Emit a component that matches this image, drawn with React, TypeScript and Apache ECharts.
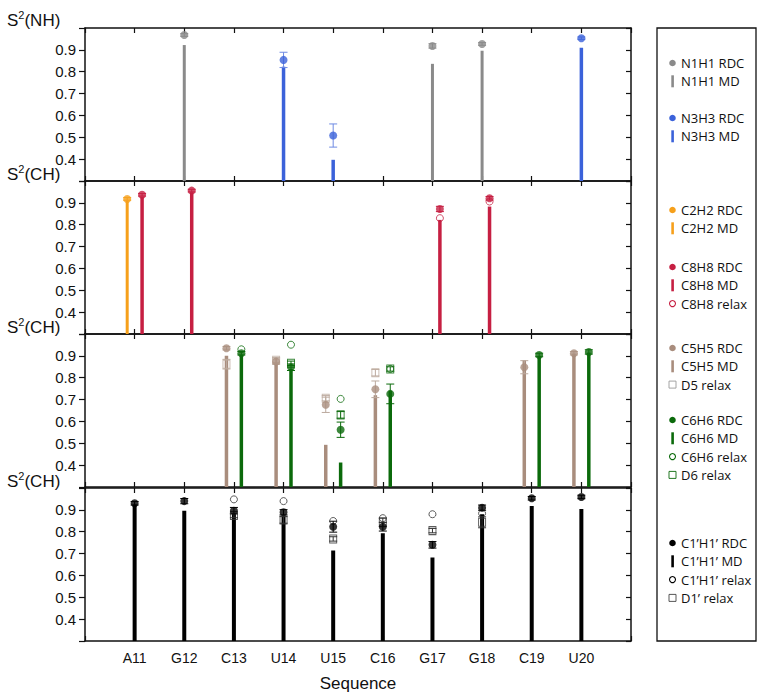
import React, { useEffect, useRef } from "react";
import * as echarts from "echarts";

// ---------- data ----------
const residueNumbers = [11, 12, 13, 14, 15, 16, 17, 18, 19, 20];
const residueNames = ["A11", "G12", "C13", "U14", "U15", "C16", "G17", "G18", "C19", "U20"];
const yTickLabels = ["0.4", "0.5", "0.6", "0.7", "0.8", "0.9"];

// panel 1 : S2(NH)
const n1h1Pos = [12, 17, 18];
const n1h1Rdc = [0.968, 0.918, 0.927];
const n1h1RdcErr = [0.006, 0.01, 0.006];
const n1h1Md = [0.922, 0.836, 0.896];

const n3h3Pos = [14, 15, 20];
const n3h3Rdc = [0.854, 0.508, 0.953];
const n3h3RdcErr = [0.035, 0.053, 0.006];
const n3h3Md = [0.823, 0.397, 0.91];

// panel 2 : S2(CH) purine C2/C8
const c2h2Pos = [11];
const c2h2Rdc = [0.918];
const c2h2RdcErr = [0.006];
const c2h2Md = [0.91];

const c8h8Pos = [11, 12, 17, 18];
const c8h8Rdc = [0.937, 0.956, 0.872, 0.921];
const c8h8RdcErr = [0.006, 0.006, 0.012, 0.008];
const c8h8Md = [0.928, 0.948, 0.822, 0.883];
const c8h8Relax = [null, null, 0.83, 0.906];

// panel 3 : S2(CH) pyrimidine C5/C6
const c5h5Pos = [13, 14, 15, 16, 19, 20];
const c5h5Rdc = [0.935, 0.874, 0.676, 0.747, 0.848, 0.912];
const c5h5RdcErr = [0.008, 0.012, 0.035, 0.038, 0.03, 0.008];
const c5h5Md = [0.9, 0.865, 0.493, 0.72, 0.88, 0.91];
const d5Relax = [0.862, 0.88, 0.706, 0.823, null, null];
const d5RelaxErr = [0.022, 0.012, 0.012, 0.015, null, null];

const c6h6Pos = [13, 14, 15, 16, 19, 20];
const c6h6Rdc = [0.912, 0.848, 0.562, 0.726, 0.904, 0.918];
const c6h6RdcErr = [0.008, 0.015, 0.035, 0.045, 0.008, 0.01];
const c6h6Md = [0.905, 0.84, 0.412, 0.74, 0.9, 0.915];
const c6h6Relax = [0.93, 0.951, 0.703, 0.84, null, null];
const d6Relax = [null, 0.866, 0.63, 0.84, null, null];
const d6RelaxErr = [null, 0.01, 0.015, 0.01, null, null];

// panel 4 : S2(CH) C1'
const c1Pos = [11, 12, 13, 14, 15, 16, 17, 18, 19, 20];
const c1Rdc = [0.93, 0.94, 0.896, 0.889, 0.823, 0.823, 0.74, 0.91, 0.953, 0.959];
const c1RdcErr = [0.008, 0.012, 0.015, 0.012, 0.025, 0.02, 0.015, 0.012, 0.008, 0.008];
const c1Md = [0.925, 0.896, 0.88, 0.87, 0.714, 0.793, 0.682, 0.88, 0.918, 0.904];
const c1Relax = [null, null, 0.948, 0.94, 0.849, 0.862, 0.88, 0.884, null, null];
const d1Relax = [null, null, 0.874, 0.854, 0.767, 0.843, 0.805, 0.843, null, null];
const d1RelaxErr = [null, null, 0.01, 0.015, 0.01, 0.02, 0.01, 0.025, null, null];

// ---------- styles ----------
const GRAY = "#8a8a8a";
const BLUE = "#3b62da";
const ORANGE = "#f6a01b";
const CRIMSON = "#c61f42";
const TAN = "#a98d7d";
const TAN_LIGHT = "#bcaa9e";
const GREEN = "#0b6a0b";
const BLACK = "#000000";

const AXIS_FONT = "'Liberation Sans', Arial, Helvetica, sans-serif";
const LEGEND_FONT = "'Open Sans', 'Noto Sans', sans-serif";

const GRID_TOPS = [28, 181, 334, 488];
const GRID_H = 153;
const GRID_LEFT = 85;
const GRID_RIGHT = 133;
const Y_MIN = 0.3;
const LEFT_OFF = -0.15;
const RIGHT_OFF = 0.15;

type Num = number | null;

function mdBars(g: number, color: string, pos: number[], md: number[], off: number, w: number) {
  return {
    type: "custom",
    xAxisIndex: 2 * g,
    yAxisIndex: 2 * g,
    z: 2,
    silent: true,
    data: pos.map((p, i) => [p + off, md[i]]),
    renderItem: (_params: any, api: any) => {
      const top = api.coord([api.value(0), api.value(1)]);
      const bot = api.coord([api.value(0), Y_MIN]);
      return {
        type: "rect",
        shape: { x: top[0] - w / 2, y: top[1], width: w, height: bot[1] - top[1] },
        style: { fill: color },
      };
    },
  };
}

function errBars(g: number, color: string, pos: number[], vals: Num[], errs: Num[], off: number) {
  const data: number[][] = [];
  pos.forEach((p, i) => {
    const v = vals[i];
    const e = errs[i];
    if (v != null && e != null) data.push([p + off, v, e]);
  });
  return {
    type: "custom",
    xAxisIndex: 2 * g,
    yAxisIndex: 2 * g,
    z: 3,
    silent: true,
    data,
    renderItem: (_params: any, api: any) => {
      const x = api.value(0);
      const v = api.value(1);
      const e = api.value(2);
      const hi = api.coord([x, v + e]);
      const lo = api.coord([x, v - e]);
      const st = { stroke: color, lineWidth: 1 };
      return {
        type: "group",
        children: [
          { type: "line", shape: { x1: hi[0], y1: hi[1], x2: lo[0], y2: lo[1] }, style: st },
          { type: "line", shape: { x1: hi[0] - 4, y1: hi[1], x2: hi[0] + 4, y2: hi[1] }, style: st },
          { type: "line", shape: { x1: lo[0] - 4, y1: lo[1], x2: lo[0] + 4, y2: lo[1] }, style: st },
        ],
      };
    },
  };
}

function marks(
  g: number,
  color: string,
  pos: number[],
  vals: Num[],
  off: number,
  kind: "dot" | "ring" | "square"
) {
  const data: number[][] = [];
  pos.forEach((p, i) => {
    const v = vals[i];
    if (v != null) data.push([p + off, v]);
  });
  const base: any = {
    type: "scatter",
    xAxisIndex: 2 * g,
    yAxisIndex: 2 * g,
    silent: true,
    data,
  };
  if (kind === "dot") {
    return { ...base, z: 5, symbol: "circle", symbolSize: 8, itemStyle: { color } };
  }
  if (kind === "ring") {
    return {
      ...base,
      z: 4,
      symbol: "circle",
      symbolSize: 7,
      itemStyle: { color: "rgba(255,255,255,0)", borderColor: color, borderWidth: 1 },
    };
  }
  return {
    ...base,
    z: 4,
    symbol: "rect",
    symbolSize: [7, 8],
    itemStyle: { color: "rgba(255,255,255,0)", borderColor: color, borderWidth: 1 },
  };
}

function buildAxes() {
  const xAxis: any[] = [];
  const yAxis: any[] = [];
  GRID_TOPS.forEach((_t, g) => {
    const isLast = g === GRID_TOPS.length - 1;
    const common = {
      type: "value",
      gridIndex: g,
      min: 10,
      max: 21,
      interval: 1,
      splitLine: { show: false },
      axisLine: { show: true, onZero: false, lineStyle: { color: "#111", width: 1.5 } },
      axisTick: { show: true, inside: true, length: 5, lineStyle: { color: "#111", width: 1.2 } },
    };
    xAxis.push({
      ...common,
      position: "bottom",
      axisLabel: {
        show: isLast,
        fontFamily: AXIS_FONT,
        fontSize: 14,
        color: "#111",
        margin: 10,
        formatter: (v: number) => {
          const idx = residueNumbers.indexOf(Math.round(v));
          return idx >= 0 ? residueNames[idx] : "";
        },
      },
      name: isLast ? "Sequence" : "",
      nameLocation: "middle",
      nameGap: 34,
      nameTextStyle: { fontFamily: AXIS_FONT, fontSize: 17, color: "#111" },
    });
    xAxis.push({ ...common, position: "top", axisLabel: { show: false } });
    const ycommon = {
      type: "value",
      gridIndex: g,
      min: Y_MIN,
      max: 1.0,
      interval: 0.1,
      splitLine: { show: false },
      axisLine: { show: true, onZero: false, lineStyle: { color: "#111", width: 1.5 } },
    };
    yAxis.push({
      ...ycommon,
      position: "left",
      axisTick: { show: true, inside: false, length: 6, lineStyle: { color: "#111", width: 1.2 } },
      axisLabel: {
        fontFamily: AXIS_FONT,
        fontSize: 15,
        color: "#111",
        margin: 9,
        formatter: (v: number) => {
          const s = v.toFixed(1);
          return yTickLabels.indexOf(s) >= 0 ? s : "";
        },
      },
    });
    yAxis.push({
      ...ycommon,
      position: "right",
      axisTick: { show: true, inside: true, length: 5, lineStyle: { color: "#111", width: 1.2 } },
      axisLabel: { show: false },
    });
  });
  return { xAxis, yAxis };
}

// legend layout
type LegendKind = "dot" | "bar" | "ring" | "square";
const legendGroups: { items: [string, string, LegendKind][] }[] = [
  { items: [["N1H1 RDC", GRAY, "dot"], ["N1H1 MD", GRAY, "bar"]] },
  { items: [["N3H3 RDC", BLUE, "dot"], ["N3H3 MD", BLUE, "bar"]] },
  { items: [["C2H2 RDC", ORANGE, "dot"], ["C2H2 MD", ORANGE, "bar"]] },
  { items: [["C8H8 RDC", CRIMSON, "dot"], ["C8H8 MD", CRIMSON, "bar"], ["C8H8 relax", CRIMSON, "ring"]] },
  { items: [["C5H5 RDC", TAN, "dot"], ["C5H5 MD", TAN, "bar"], ["D5 relax", "#9a9a9a", "square"]] },
  {
    items: [
      ["C6H6 RDC", GREEN, "dot"],
      ["C6H6 MD", GREEN, "bar"],
      ["C6H6 relax", GREEN, "ring"],
      ["D6 relax", GREEN, "square"],
    ],
  },
  {
    items: [
      ["C1’H1’ RDC", BLACK, "dot"],
      ["C1’H1’ MD", BLACK, "bar"],
      ["C1’H1’ relax", BLACK, "ring"],
      ["D1’ relax", "#444", "square"],
    ],
  },
];
const LEGEND_GROUP_Y = [63, 118, 210, 267, 348, 420, 543];
const LEGEND_STEP = 18.3;

function legendGraphics() {
  const els: any[] = [
    {
      type: "rect",
      shape: { x: 657, y: 28, width: 99, height: 613 },
      style: { fill: "none", stroke: "#111", lineWidth: 1.3 },
    },
  ];
  const mx = 672.5;
  legendGroups.forEach((grp, gi) => {
    grp.items.forEach(([label, color, kind], ii) => {
      const cy = LEGEND_GROUP_Y[gi] + ii * LEGEND_STEP;
      if (kind === "dot") {
        els.push({ type: "circle", shape: { cx: mx, cy, r: 3.3 }, style: { fill: color } });
      } else if (kind === "bar") {
        els.push({ type: "rect", shape: { x: mx - 1.2, y: cy - 6, width: 2.6, height: 12 }, style: { fill: color } });
      } else if (kind === "ring") {
        els.push({ type: "circle", shape: { cx: mx, cy, r: 3 }, style: { fill: "#fff", stroke: color, lineWidth: 1.1 } });
      } else {
        els.push({
          type: "rect",
          shape: { x: mx - 3.5, y: cy - 3.5, width: 7, height: 7 },
          style: { fill: "none", stroke: color, lineWidth: 0.9 },
        });
      }
      els.push({
        type: "text",
        x: 681,
        y: cy,
        style: {
          text: label,
          fontFamily: LEGEND_FONT,
          fontSize: 13,
          fill: "#111",
          textVerticalAlign: "middle",
          verticalAlign: "middle",
        },
      });
    });
  });
  return els;
}

function s2Label(suffix: string, yBottom: number) {
  return {
    type: "text",
    x: 7,
    y: yBottom,
    style: {
      text: `{a|S}{b|2}{a|(${suffix})}`,
      verticalAlign: "bottom",
      textVerticalAlign: "bottom",
      rich: {
        a: { fontFamily: AXIS_FONT, fontSize: 17, fill: "#111", lineHeight: 20, verticalAlign: "bottom" },
        b: { fontFamily: AXIS_FONT, fontSize: 11, fill: "#111", lineHeight: 20, verticalAlign: "top", padding: [0, 0, 8, 0] },
      },
    },
  };
}

export default function App() {
  const ref = useRef<HTMLDivElement>(null);
  useEffect(() => {
    if (!ref.current) return;
    const chart = echarts.init(ref.current, undefined, { renderer: "svg" });
    const { xAxis, yAxis } = buildAxes();
    const series: any[] = [
      // panel 1
      mdBars(0, GRAY, n1h1Pos, n1h1Md, 0, 3),
      mdBars(0, BLUE, n3h3Pos, n3h3Md, 0, 3.5),
      errBars(0, GRAY, n1h1Pos, n1h1Rdc, n1h1RdcErr, 0),
      errBars(0, "#6f8be3", n3h3Pos, n3h3Rdc, n3h3RdcErr, 0),
      marks(0, GRAY, n1h1Pos, n1h1Rdc, 0, "dot"),
      marks(0, BLUE, n3h3Pos, n3h3Rdc, 0, "dot"),
      // panel 2
      mdBars(1, ORANGE, c2h2Pos, c2h2Md, LEFT_OFF, 3),
      mdBars(1, CRIMSON, c8h8Pos, c8h8Md, RIGHT_OFF, 3.5),
      errBars(1, ORANGE, c2h2Pos, c2h2Rdc, c2h2RdcErr, LEFT_OFF),
      errBars(1, CRIMSON, c8h8Pos, c8h8Rdc, c8h8RdcErr, RIGHT_OFF),
      marks(1, CRIMSON, c8h8Pos, c8h8Relax, RIGHT_OFF, "ring"),
      marks(1, ORANGE, c2h2Pos, c2h2Rdc, LEFT_OFF, "dot"),
      marks(1, CRIMSON, c8h8Pos, c8h8Rdc, RIGHT_OFF, "dot"),
      // panel 3
      mdBars(2, TAN, c5h5Pos, c5h5Md, LEFT_OFF, 3.5),
      mdBars(2, GREEN, c6h6Pos, c6h6Md, RIGHT_OFF, 3.5),
      errBars(2, TAN_LIGHT, c5h5Pos, c5h5Rdc, c5h5RdcErr, LEFT_OFF),
      errBars(2, GREEN, c6h6Pos, c6h6Rdc, c6h6RdcErr, RIGHT_OFF),
      errBars(2, TAN_LIGHT, c5h5Pos, d5Relax, d5RelaxErr, LEFT_OFF),
      errBars(2, GREEN, c6h6Pos, d6Relax, d6RelaxErr, RIGHT_OFF),
      marks(2, TAN_LIGHT, c5h5Pos, d5Relax, LEFT_OFF, "square"),
      marks(2, GREEN, c6h6Pos, c6h6Relax, RIGHT_OFF, "ring"),
      marks(2, GREEN, c6h6Pos, d6Relax, RIGHT_OFF, "square"),
      marks(2, TAN, c5h5Pos, c5h5Rdc, LEFT_OFF, "dot"),
      marks(2, GREEN, c6h6Pos, c6h6Rdc, RIGHT_OFF, "dot"),
      // panel 4
      mdBars(3, BLACK, c1Pos, c1Md, 0, 4),
      errBars(3, BLACK, c1Pos, c1Rdc, c1RdcErr, 0),
      errBars(3, "#333", c1Pos, d1Relax, d1RelaxErr, 0),
      marks(3, "#333", c1Pos, c1Relax, 0, "ring"),
      marks(3, "#333", c1Pos, d1Relax, 0, "square"),
      marks(3, BLACK, c1Pos, c1Rdc, 0, "dot"),
    ];
    chart.setOption({
      animation: false,
      backgroundColor: "#ffffff",
      grid: GRID_TOPS.map((t) => ({ left: GRID_LEFT, right: GRID_RIGHT, top: t, height: GRID_H })),
      xAxis,
      yAxis,
      series,
      graphic: [
        s2Label("NH", 29),
        s2Label("CH", 183),
        s2Label("CH", 336),
        s2Label("CH", 490),
        ...legendGraphics(),
      ],
    });
    return () => chart.dispose();
  }, []);
  return (
    <div
      ref={ref}
      style={{ position: "fixed", left: 0, top: 0, width: 764, height: 697, background: "#fff" }}
    />
  );
}
